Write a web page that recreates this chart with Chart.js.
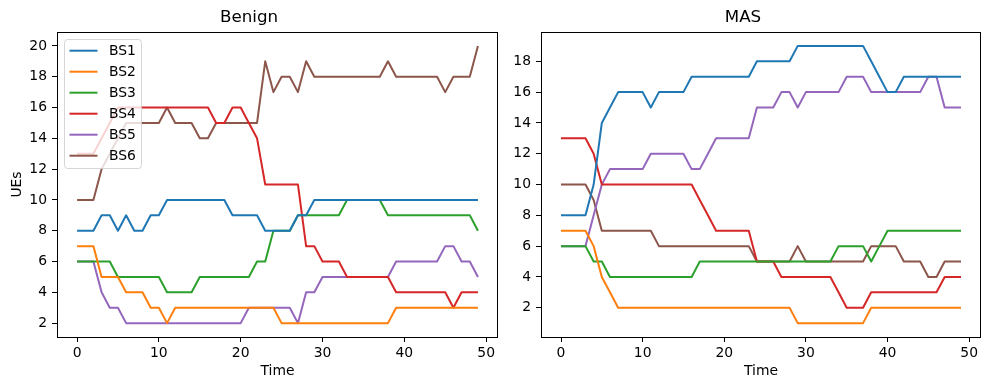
<!DOCTYPE html>
<html>
<head>
<meta charset="utf-8">
<script src="https://cdn.jsdelivr.net/npm/chart.js@4.4.0/dist/chart.umd.min.js"></script>
<style>
  html, body { margin: 0; padding: 0; background: #fff; }
  #wrap { position: relative; width: 989px; height: 390px; overflow: hidden; }
  canvas { position: absolute; top: 0; }
  #benign { left: 0; }
  #mas { left: 505px; }
</style>
</head>
<body>
<div id="wrap">
  <canvas id="benign" width="505" height="390"></canvas>
  <canvas id="mas" width="484" height="390"></canvas>
</div>
<script>
const time = [0,1,2,3,4,5,6,7,8,9,10,11,12,13,14,15,16,17,18,19,20,21,22,23,24,
  25,26,27,28,29,30,31,32,33,34,35,36,37,38,39,40,41,42,43,44,45,46,47,48,49];
const seriesNames = ['BS1', 'BS2', 'BS3', 'BS4', 'BS5', 'BS6'];
const colors = ['#1f77b4', '#ff7f0e', '#2ca02c', '#d62728', '#9467bd', '#8c564b'];

// Benign
const benignBS1 = [8,8,8,9,9,8,9,8,8,9, 9,10,10,10,10,10,10,10,10,9, 9,9,9,8,8,8,8,9,9,10,
  10,10,10,10,10,10,10,10,10,10, 10,10,10,10,10,10,10,10,10,10];
const benignBS2 = [7,7,7,5,5,5,4,4,4,3, 3,2,3,3,3,3,3,3,3,3, 3,3,3,3,3,2,2,2,2,2,
  2,2,2,2,2,2,2,2,2,3, 3,3,3,3,3,3,3,3,3,3];
const benignBS3 = [6,6,6,6,6,5,5,5,5,5, 5,4,4,4,4,5,5,5,5,5, 5,5,6,6,8,8,8,9,9,9,
  9,9,9,10,10,10,10,10,9,9, 9,9,9,9,9,9,9,9,9,8];
const benignBS4 = [13,13,13,14,15,16,16,16,16,16, 16,16,16,16,16,16,16,15,15,16, 16,15,14,11,11,11,11,11,7,7,
  6,6,6,5,5,5,5,5,5,4, 4,4,4,4,4,4,3,4,4,4];
const benignBS5 = [6,6,6,4,3,3,2,2,2,2, 2,2,2,2,2,2,2,2,2,2, 2,3,3,3,3,3,3,2,4,4,
  5,5,5,5,5,5,5,5,5,6, 6,6,6,6,6,7,7,6,6,5];
const benignBS6 = [10,10,10,12,13,14,15,15,15,15, 15,16,15,15,15,14,14,15,15,15, 15,15,15,19,17,18,18,17,19,18,
  18,18,18,18,18,18,18,18,19,18, 18,18,18,18,18,17,18,18,18,20];

// MAS
const masBS1 = [8,8,8,8,10,14,15,16,16,16, 16,15,16,16,16,16,17,17,17,17, 17,17,17,17,18,18,18,18,18,19,
  19,19,19,19,19,19,19,19,18,17, 16,16,17,17,17,17,17,17,17,17];
const masBS2 = [7,7,7,7,6,4,3,2,2,2, 2,2,2,2,2,2,2,2,2,2, 2,2,2,2,2,2,2,2,2,1,
  1,1,1,1,1,1,1,1,2,2, 2,2,2,2,2,2,2,2,2,2];
const masBS3 = [6,6,6,6,5,5,4,4,4,4, 4,4,4,4,4,4,4,5,5,5, 5,5,5,5,5,5,5,5,5,5,
  5,5,5,5,6,6,6,6,5,6, 7,7,7,7,7,7,7,7,7,7];
const masBS4 = [13,13,13,13,12,10,10,10,10,10, 10,10,10,10,10,10,10,9,8,7, 7,7,7,7,5,5,5,4,4,4,
  4,4,4,4,3,2,2,2,3,3, 3,3,3,3,3,3,3,4,4,4];
const masBS5 = [6,6,6,6,8,10,11,11,11,11, 11,12,12,12,12,12,11,11,12,13, 13,13,13,13,15,15,15,16,16,15,
  16,16,16,16,16,17,17,17,16,16, 16,16,16,16,16,17,17,15,15,15];
const masBS6 = [10,10,10,10,9,7,7,7,7,7, 7,7,6,6,6,6,6,6,6,6, 6,6,6,6,5,5,5,5,5,6,
  5,5,5,5,5,5,5,5,6,6, 6,6,5,5,5,4,4,5,5,5];

const xTicks = [0, 10, 20, 30, 40, 50];
const benignYTicks = [2, 4, 6, 8, 10, 12, 14, 16, 18, 20];
const masYTicks = [2, 4, 6, 8, 10, 12, 14, 16, 18];

Chart.defaults.font.family = "'DejaVu Sans', sans-serif";
Chart.defaults.color = '#000';

// black box round the plot area, like the matplotlib spines
const framePlugin = {
    id: 'frame',
    afterDatasetsDraw(chart) {
        const a = chart.chartArea;
        const ctx = chart.ctx;
        ctx.save();
        ctx.strokeStyle = '#000';
        ctx.lineWidth = 1;
        ctx.strokeRect(Math.round(a.left) + 0.5, Math.round(a.top) + 0.5,
            Math.round(a.right - a.left) - 1, Math.round(a.bottom - a.top));
        ctx.restore();
    }
};

// legend box in the upper left of the plot
const boxLegendPlugin = {
    id: 'boxLegend',
    afterDraw(chart, args, opts) {
        if (!opts.show) return;
        const ctx = chart.ctx;
        const x = 64, y = 39, w = 77, h = 129, r = 3;
        ctx.save();
        ctx.beginPath();
        ctx.roundRect(x + 0.5, y + 0.5, w, h, r);
        ctx.fillStyle = 'rgba(255,255,255,0.8)';
        ctx.fill();
        ctx.strokeStyle = 'rgba(204,204,204,0.8)';
        ctx.lineWidth = 1;
        ctx.stroke();
        ctx.font = "13.9px 'DejaVu Sans'";
        ctx.textBaseline = 'middle';
        ctx.textAlign = 'left';
        chart.data.datasets.forEach((ds, i) => {
            const cy = 50.7 + i * 21;
            ctx.strokeStyle = ds.borderColor;
            ctx.lineWidth = 2;
            ctx.beginPath();
            ctx.moveTo(69.5, cy);
            ctx.lineTo(97.5, cy);
            ctx.stroke();
            ctx.fillStyle = '#000';
            ctx.fillText(ds.label, 109, cy + 0.5);
        });
        ctx.restore();
    }
};

function makeChart(id, title, series, yMin, yMax, yTicks, yWidth, padRight, showLegend, yTitle) {
    const datasets = series.map((values, i) => ({
        label: seriesNames[i],
        data: values.map((v, j) => ({ x: time[j], y: v })),
        borderColor: colors[i],
        backgroundColor: colors[i],
        borderWidth: 2,
        pointRadius: 0,
        tension: 0,
        borderJoinStyle: 'round',
        fill: false
    }));

    return new Chart(document.getElementById(id), {
        type: 'line',
        data: { datasets: datasets },
        plugins: [framePlugin, boxLegendPlugin],
        options: {
            responsive: false,
            animation: false,
            layout: { padding: { left: 0, right: padRight, top: 0, bottom: 0 } },
            plugins: {
                legend: { display: false },
                tooltip: { enabled: false },
                title: {
                    display: true,
                    text: title,
                    color: '#000',
                    font: { size: 16.7, weight: 'normal' },
                    padding: { top: 8, bottom: 4 }
                },
                boxLegend: { show: showLegend }
            },
            scales: {
                x: {
                    type: 'linear',
                    min: -2.45,
                    max: 51.45,
                    afterBuildTicks: (scale) => { scale.ticks = xTicks.map(v => ({ value: v })); },
                    afterFit: (scale) => { scale.height = 53; },
                    ticks: { color: '#000', font: { size: 13.9 }, padding: 3, maxRotation: 0 },
                    grid: { drawOnChartArea: false, drawTicks: true, tickLength: 5, color: '#000' },
                    border: { display: false },
                    title: {
                        display: true,
                        text: 'Time',
                        color: '#000',
                        font: { size: 13.9 },
                        padding: { top: 0, bottom: 10 }
                    }
                },
                y: {
                    min: yMin,
                    max: yMax,
                    afterBuildTicks: (scale) => { scale.ticks = yTicks.map(v => ({ value: v })); },
                    afterFit: (scale) => { scale.width = yWidth; },
                    ticks: { color: '#000', font: { size: 13.9 }, padding: 5 },
                    grid: { drawOnChartArea: false, drawTicks: true, tickLength: 5, color: '#000' },
                    border: { display: false },
                    title: {
                        display: !!yTitle,
                        text: yTitle || '',
                        color: '#000',
                        font: { size: 13.9 },
                        padding: { top: 9, bottom: 0 }
                    }
                }
            }
        }
    });
}

makeChart('benign', 'Benign',
    [benignBS1, benignBS2, benignBS3, benignBS4, benignBS5, benignBS6],
    1.1, 20.9, benignYTicks, 57, 7, true, 'UEs');

makeChart('mas', 'MAS',
    [masBS1, masBS2, masBS3, masBS4, masBS5, masBS6],
    0.1, 19.9, masYTicks, 36, 8, false, null);
</script>
</body>
</html>
